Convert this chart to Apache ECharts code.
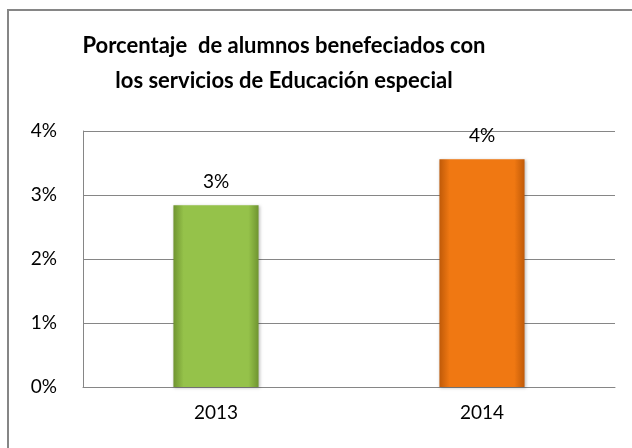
<!DOCTYPE html>
<html>
<head>
<meta charset="utf-8">
<script src="https://cdn.jsdelivr.net/npm/echarts@6/dist/echarts.min.js"></script>
<style>
  html, body { margin: 0; padding: 0; background: #fff; }
  #chart { width: 632px; height: 448px; }
</style>
</head>
<body>
<div id="chart"></div>
<script>
// datos
const years = ['2013', '2014']
const values = [0.0284, 0.0356] // fracción
const yTicks = [0, 0.01, 0.02, 0.03, 0.04]

const FONT = 'Lato'

// degradado horizontal para dar efecto de bisel
function barColor(edge, mid) {
    return new echarts.graphic.LinearGradient(0, 0, 1, 0, [
        { offset: 0, color: edge },
        { offset: 0.12, color: mid },
        { offset: 0.88, color: mid },
        { offset: 1, color: edge }
    ])
}

const chart = echarts.init(document.getElementById('chart'), null, { renderer: 'canvas' })

chart.setOption({
    animation: false,
    textStyle: { fontFamily: FONT },
    title: {
        text: 'Porcentaje  de alumnos benefeciados con\nlos servicios de Educación especial',
        left: 279,
        textAlign: 'center',
        top: 23,
        textStyle: {
            fontFamily: FONT,
            fontSize: 22,
            fontWeight: 'bold',
            color: '#000',
            lineHeight: 35
        }
    },
    graphic: [{
        type: 'rect',
        shape: { x: 8, y: 10, width: 700, height: 600 },
        style: { fill: 'none', stroke: '#868686', lineWidth: 2 },
        silent: true
    }],
    grid: {
        left: 83,
        right: 17,
        top: 131,
        bottom: 61,
        containLabel: false
    },
    xAxis: {
        type: 'category',
        data: years,
        axisTick: { show: false },
        axisLine: { lineStyle: { color: '#868686', width: 1 } },
        axisLabel: { color: '#000', fontSize: 19, margin: 16, fontFamily: FONT }
    },
    yAxis: {
        type: 'value',
        min: 0,
        max: 0.04,
        interval: 0.01,
        axisLine: { show: true, lineStyle: { color: '#868686', width: 1 } },
        axisTick: { show: false },
        splitLine: { lineStyle: { color: '#868686', width: 1 } },
        axisLabel: {
            color: '#000',
            fontSize: 19,
            margin: 26,
            fontFamily: FONT,
            formatter: v => Math.round(v * 100) + '%'
        }
    },
    series: [{
        type: 'bar',
        barWidth: '32%',
        data: [
            { value: values[0], itemStyle: { color: barColor('#6f9430', '#95c24a') } },
            { value: values[1], itemStyle: { color: barColor('#c05a08', '#f07812') } }
        ],
        itemStyle: {
            shadowColor: 'rgba(0,0,0,0.25)',
            shadowBlur: 3,
            shadowOffsetX: 1,
            shadowOffsetY: 1
        },
        label: {
            show: true,
            position: 'top',
            distance: 14,
            color: '#000',
            fontSize: 19,
            fontFamily: FONT,
            formatter: p => Math.round(p.value * 100) + '%'
        }
    }]
})
</script>
</body>
</html>
